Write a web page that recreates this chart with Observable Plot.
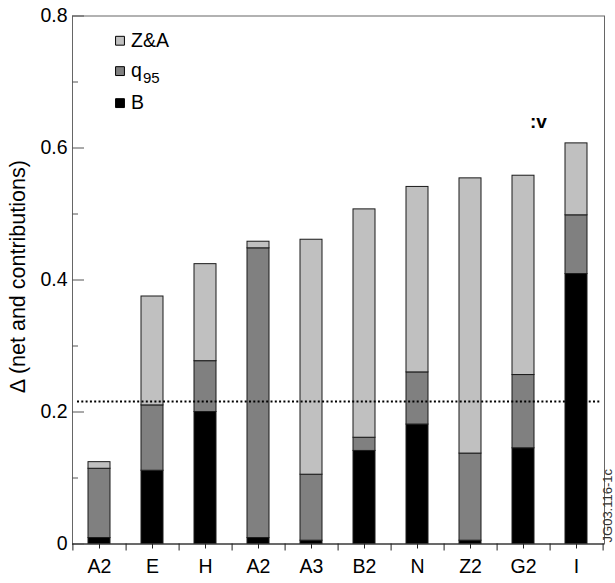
<!DOCTYPE html>
<html>
<head>
<meta charset="utf-8">
<script src="https://cdn.jsdelivr.net/npm/d3@7"></script>
<script src="https://cdn.jsdelivr.net/npm/@observablehq/plot@0.6"></script>
<style>
  html, body { margin: 0; padding: 0; background: #fff; }
  #chart svg { display: block; }
</style>
</head>
<body>
<div id="chart"></div>
<script>
// Categories (note: "A2" appears twice)
const categories = ["A2", "E", "H", "A2", "A3", "B2", "N", "Z2", "G2", "I"];
// Contributions to Δ for each category (stacked bottom → top: B, q95, Z&A)
const valuesB   = [0.009, 0.111, 0.200, 0.009, 0.005, 0.141, 0.181, 0.005, 0.145, 0.409];
const valuesQ95 = [0.105, 0.099, 0.077, 0.439, 0.100, 0.020, 0.079, 0.132, 0.111, 0.089];
const valuesZA  = [0.010, 0.165, 0.147, 0.010, 0.356, 0.346, 0.281, 0.417, 0.302, 0.109];
const seriesNames = ["B", "q95", "Z&A"];
const seriesColors = ["#000000", "#808080", "#c0c0c0"];
const thresholdValue = 0.216;
const yMajorTicks = [0, 0.2, 0.4, 0.6, 0.8];
const yMinorTicks = [0.1, 0.3, 0.5, 0.7];
const legendY = [0.7625, 0.7165, 0.668]; // Z&A, q95, B rows

const idx = d3.range(categories.length);
const data = [];
idx.forEach(i => {
  data.push({i, series: "B", value: valuesB[i]});
  data.push({i, series: "q95", value: valuesQ95[i]});
  data.push({i, series: "Z&A", value: valuesZA[i]});
});

const legendRows = [
  {series: "Z&A", y: legendY[0]},
  {series: "q95", y: legendY[1]},
  {series: "B", y: legendY[2]}
];

const W = 615, H = 583;
const mL = 72, mR = 11, mT = 15.5, mB = 39.5;
const halfStep = (W - mL - mR) / categories.length / 2;
const font = "'Liberation Sans', Arial, Helvetica, sans-serif";

const chart = Plot.plot({
  width: W,
  height: H,
  marginLeft: mL,
  marginRight: mR,
  marginTop: mT,
  marginBottom: mB,
  style: {fontFamily: font, fontSize: "19.5px", color: "#000", background: "#fff"},
  x: {type: "band", domain: idx, paddingInner: 0.58, paddingOuter: 0.29, axis: null},
  y: {domain: [0, 0.8], axis: null},
  color: {domain: seriesNames, range: seriesColors},
  marks: [
    Plot.barY(data, Plot.stackY({
      x: "i", y: "value", fill: "series", order: seriesNames,
      stroke: "#1a1a1a", strokeWidth: 1
    })),
    Plot.ruleY([thresholdValue], {
      stroke: "#000", strokeWidth: 2, strokeDasharray: "2,2.3", insetLeft: 5, insetRight: 4
    }),
    Plot.frame({stroke: "#666", strokeWidth: 1}),
    Plot.ruleY([0], {stroke: "#222", strokeWidth: 1}),
    // Y axis: major ticks (inward) with labels, minor ticks
    Plot.axisY({
      ticks: yMajorTicks, tickSize: -12, tickPadding: 17, stroke: "#555",
      tickFormat: d => d === 0 ? "0" : d.toFixed(1), fontSize: 19.5, label: null
    }),
    Plot.axisY({ticks: yMinorTicks, tickSize: -6, stroke: "#555", tickFormat: null, text: null, label: null}),
    // X axis: center ticks with labels, boundary ticks
    Plot.axisX({
      ticks: idx, tickSize: 5, tickPadding: 10, stroke: "#222",
      tickFormat: i => categories[i], fontSize: 19.5, label: null
    }),
    Plot.axisX({ticks: idx, tickSize: 7, dx: halfStep, stroke: "#222", text: null, label: null}),
    Plot.axisX({ticks: [0], tickSize: 7, dx: -halfStep, stroke: "#222", text: null, label: null}),
    // Y axis title
    Plot.text(["Δ (net and contributions)"], {
      frameAnchor: "left", textAnchor: "middle", y: () => 0.405, dx: -54.5, rotate: -90,
      fontSize: 21.5, fill: "#000", text: d => d
    }),
    // Legend
    Plot.dot(legendRows, {
      x: () => 0, y: "y", dx: 20.5, symbol: "square", r: 5,
      fill: "series", stroke: "#000", strokeWidth: 1
    }),
    Plot.text(legendRows.filter(d => d.series !== "q95"), {
      x: () => 0, y: "y", dx: 31.5, text: "series", textAnchor: "start", fontSize: 19.5, fill: "#000"
    }),
    Plot.text(legendRows.filter(d => d.series === "q95"), {
      x: () => 0, y: "y", dx: 31.5, text: () => "q", textAnchor: "start", fontSize: 19.5, fill: "#000"
    }),
    Plot.text(legendRows.filter(d => d.series === "q95"), {
      x: () => 0, y: "y", dx: 43.5, dy: 7, text: () => "95", textAnchor: "start", fontSize: 15, fill: "#000"
    }),
    // Annotation
    Plot.text([":v"], {x: () => 8, y: () => 0.64, dx: 15, text: d => d, fontSize: 19, fontWeight: "bold", fill: "#000"}),
    // Figure id
    Plot.text(["JG03.116-1c"], {
      frameAnchor: "right", textAnchor: "middle", y: () => 0.058, dx: 3.5, rotate: -90,
      text: d => d, fontSize: 13, fill: "#333"
    })
  ]
});

document.getElementById("chart").appendChild(chart);
</script>
</body>
</html>
